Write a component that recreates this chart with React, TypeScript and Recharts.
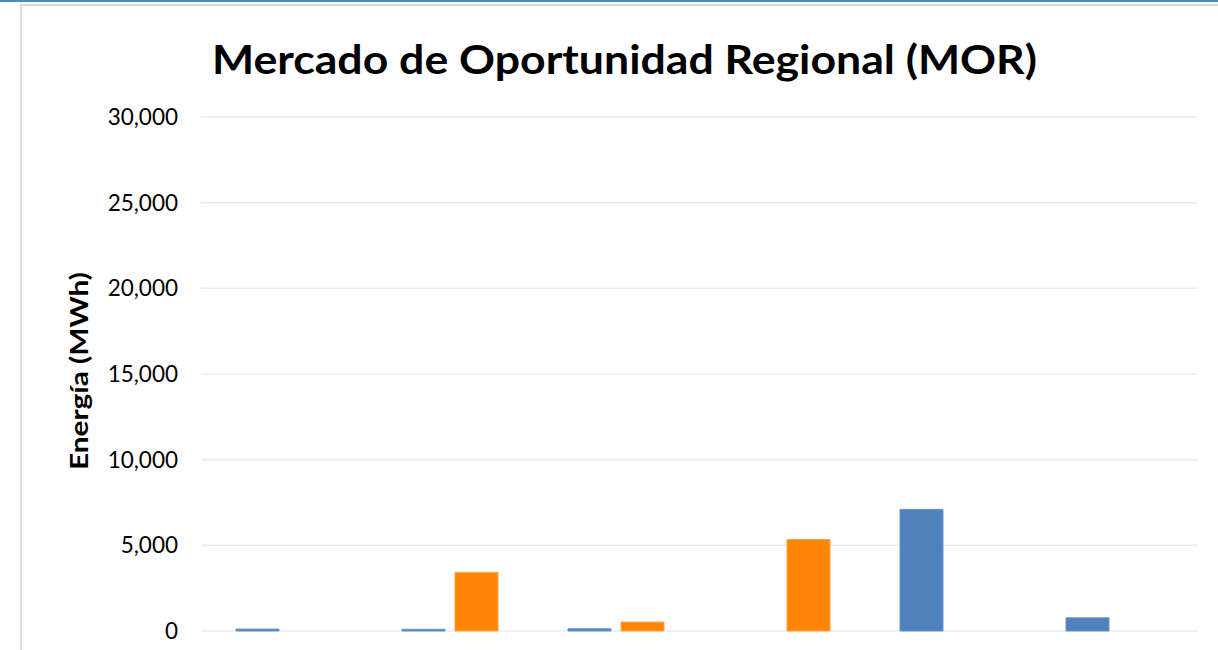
import React from 'react';
import { BarChart, Bar, XAxis, YAxis, CartesianGrid } from 'recharts';

const categories = ['Ene', 'Feb', 'Mar', 'Abr', 'May', 'Jun'];
const seriesBlue = [110, 100, 130, 0, 7100, 770];
const seriesOrange = [0, 3420, 520, 5340, 0, 0];
const yTicks = [0, 5000, 10000, 15000, 20000, 25000, 30000];

const data = categories.map((c, i) => ({
  name: c,
  inyeccion: seriesBlue[i],
  retiro: seriesOrange[i],
}));

const FONT = 'Lato, "Open Sans", sans-serif';

export default function App() {
  return (
    <div
      style={{
        position: 'absolute',
        left: 0,
        top: 0,
        width: 1218,
        height: 650,
        overflow: 'hidden',
        background: '#ffffff',
        fontFamily: FONT,
      }}
    >
      <div style={{ position: 'absolute', left: 0, top: 0, width: 1218, height: 2, background: '#4a87cd' }} />
      <div
        style={{
          position: 'absolute',
          left: 20,
          top: 4,
          width: 1400,
          height: 900,
          borderLeft: '2px solid #dcdcdc',
          borderTop: '2px solid #dcdcdc',
        }}
      />
      <div style={{ position: 'absolute', left: 0, top: 0 }}>
        <BarChart
          width={1218}
          height={810}
          data={data}
          margin={{ top: 117, right: 21, bottom: 69, left: 0 }}
          barSize={43}
          barGap={10}
        >
          <CartesianGrid vertical={false} stroke="#e6ecf4" strokeWidth={1.5} />
          <XAxis
            dataKey="name"
            height={110}
            axisLine={false}
            tickLine={false}
            tickMargin={80}
            tick={{ fontSize: 20, fill: '#000', fontFamily: FONT }}
          />
          <YAxis
            width={201}
            domain={[0, 30000]}
            ticks={yTicks}
            axisLine={false}
            tickLine={false}
            tickMargin={17}
            tickFormatter={(v: number) => v.toLocaleString('en-US')}
            tick={{ fontSize: 22.5, fill: '#000', fontFamily: FONT }}
          />
          <Bar dataKey="inyeccion" name="Inyección" fill="#4f81bd" stroke="#6b95c8" strokeWidth={1} isAnimationActive={false} />
          <Bar dataKey="retiro" name="Retiro" fill="#ff8605" stroke="#ffa347" strokeWidth={1} isAnimationActive={false} />
        </BarChart>
      </div>
      <svg
        width={1218}
        height={650}
        style={{ position: 'absolute', left: 0, top: 0, pointerEvents: 'none' }}
      >
        <text
          x={624.5}
          y={74}
          textAnchor="middle"
          fontFamily={FONT}
          fontWeight={700}
          fontSize={41}
          textLength={825}
          lengthAdjust="spacingAndGlyphs"
          fill="#000"
        >
          Mercado de Oportunidad Regional (MOR)
        </text>
        <text
          x={88}
          y={371}
          transform="rotate(-90 88 371)"
          textAnchor="middle"
          fontFamily={FONT}
          fontWeight={700}
          fontSize={25}
          textLength={198}
          lengthAdjust="spacingAndGlyphs"
          fill="#000"
        >
          Energía (MWh)
        </text>
      </svg>
    </div>
  );
}
